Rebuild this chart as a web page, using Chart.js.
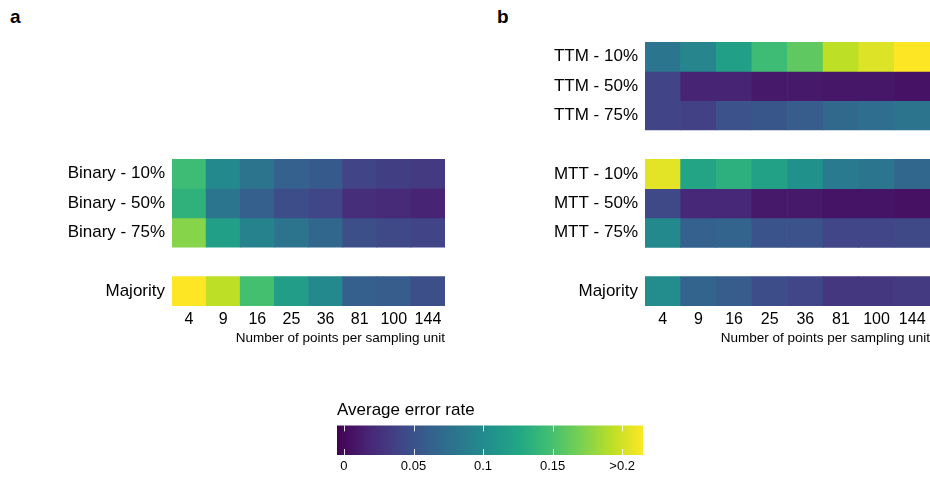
<!DOCTYPE html>
<html>
<head>
<meta charset="utf-8">
<script src="https://cdn.jsdelivr.net/npm/chart.js@4.4.1/dist/chart.umd.min.js"></script>
<style>
  body { margin: 0; background: #fff; width: 930px; height: 477px; position: relative; overflow: hidden; font-family: 'Liberation Sans', Arial, sans-serif; }
  canvas { position: absolute; }
  .tag { position: absolute; font-weight: bold; font-size: 19px; color: #000; }
</style>
</head>
<body>
<div class="tag" style="left:10px; top:6px;">a</div>
<div class="tag" style="left:497px; top:6px;">b</div>
<canvas id="panelA" width="460" height="360" style="left:0; top:0;"></canvas>
<canvas id="panelB" width="460" height="360" style="left:470px; top:0;"></canvas>
<canvas id="colorBar" width="326" height="79" style="left:327px; top:398px;"></canvas>
<script>
// points per sampling unit (columns)
var sizes = ['4', '9', '16', '25', '36', '81', '100', '144'];

// panel a rows (average error rate)
var binary10 = [0.145, 0.098, 0.079, 0.063, 0.057, 0.039, 0.035, 0.032];
var binary50 = [0.136, 0.081, 0.061, 0.046, 0.041, 0.024, 0.021, 0.017];
var binary75 = [0.175, 0.118, 0.092, 0.079, 0.068, 0.048, 0.043, 0.039];
var majorityA = [0.23, 0.193, 0.149, 0.116, 0.098, 0.061, 0.059, 0.048];

// panel b rows
var ttm10 = [0.081, 0.094, 0.118, 0.145, 0.160, 0.193, 0.204, 0.25];
var ttm50 = [0.039, 0.017, 0.017, 0.010, 0.010, 0.008, 0.008, 0.006];
var ttm75 = [0.039, 0.037, 0.050, 0.054, 0.059, 0.070, 0.074, 0.079];
var mtt10 = [0.206, 0.123, 0.134, 0.120, 0.105, 0.085, 0.081, 0.068];
var mtt50 = [0.043, 0.019, 0.019, 0.010, 0.010, 0.007, 0.007, 0.005];
var mtt75 = [0.098, 0.063, 0.065, 0.052, 0.050, 0.041, 0.041, 0.043];
var majorityB = [0.101, 0.065, 0.059, 0.046, 0.041, 0.030, 0.030, 0.032];

// colour scale limits and tick labels
var colorMin = -0.005;
var colorMax = 0.215;
var colorTicks = [0, 0.05, 0.1, 0.15, 0.2];
var colorTickLabels = ['0', '0.05', '0.1', '0.15', '>0.2'];

var viridis = ['#440154', '#482475', '#414487', '#355f8d', '#2a788e', '#21918c',
               '#22a884', '#44bf70', '#7ad151', '#bddf26', '#fde725'];

function hexToRgb(h) {
    return [parseInt(h.substr(1, 2), 16), parseInt(h.substr(3, 2), 16), parseInt(h.substr(5, 2), 16)];
}

function colorFor(v) {
    var t = (v - colorMin) / (colorMax - colorMin);
    t = Math.max(0, Math.min(1, t));
    var pos = t * (viridis.length - 1);
    var i = Math.min(Math.floor(pos), viridis.length - 2);
    var f = pos - i;
    var a = hexToRgb(viridis[i]), b = hexToRgb(viridis[i + 1]);
    var c = a.map(function (x, k) { return Math.round(x + (b[k] - x) * f); });
    return 'rgb(' + c.join(',') + ')';
}

Chart.defaults.font.family = "'Liberation Sans', Arial, sans-serif";
Chart.defaults.color = '#000';

function createHeatmap(canvasId, rowLabels, rowSlots, rowValues, nSlots, yWidth, pad) {
    var ctx = document.getElementById(canvasId).getContext('2d');

    var datasets = rowValues.map(function (vals, r) {
        return {
            label: rowLabels[r],
            data: vals.map(function () { return [rowSlots[r], rowSlots[r] + 1]; }),
            backgroundColor: vals.map(colorFor),
            borderWidth: 0,
            barPercentage: 1,
            categoryPercentage: 1,
            grouped: false
        };
    });

    return new Chart(ctx, {
        type: 'bar',
        data: { labels: sizes, datasets: datasets },
        options: {
            responsive: false,
            animation: false,
            layout: { padding: pad },
            plugins: { legend: { display: false }, tooltip: { enabled: false }, title: { display: false } },
            scales: {
                x: {
                    grid: { display: false, drawTicks: false },
                    border: { display: false },
                    ticks: { font: { size: 16 }, padding: 4, maxRotation: 0, autoSkip: false },
                    title: { display: true, text: 'Number of points per sampling unit', align: 'end',
                             font: { size: 13.5 }, padding: { top: 2, bottom: 0 } },
                    afterFit: function (s) { s.height = 40; }
                },
                y: {
                    min: 0, max: nSlots, reverse: true,
                    grid: { display: false, drawTicks: false },
                    border: { display: false },
                    afterBuildTicks: function (s) {
                        s.ticks = rowSlots.map(function (sl) { return { value: sl + 0.5 }; });
                    },
                    ticks: {
                        font: { size: 17 }, padding: 7, autoSkip: false,
                        callback: function (v, i) { return rowLabels[i]; }
                    },
                    afterFit: function (s) { s.width = yWidth; }
                }
            }
        }
    });
}

createHeatmap('panelA',
    ['Binary - 10%', 'Binary - 50%', 'Binary - 75%', 'Majority'],
    [0, 1, 2, 4],
    [binary10, binary50, binary75, majorityA],
    5, 172, { left: 0, right: 15, top: 159, bottom: 14 });

createHeatmap('panelB',
    ['TTM - 10%', 'TTM - 50%', 'TTM - 75%', 'MTT - 10%', 'MTT - 50%', 'MTT - 75%', 'Majority'],
    [0, 1, 2, 4, 5, 6, 8],
    [ttm10, ttm50, ttm75, mtt10, mtt50, mtt75, majorityB],
    9, 175, { left: 0, right: 0, top: 42, bottom: 14 });

// white tick marks inside the colour bar
var barTicks = {
    id: 'barTicks',
    afterDatasetsDraw: function (chart) {
        var xs = chart.scales.x, a = chart.chartArea, c = chart.ctx;
        c.save();
        c.strokeStyle = 'rgba(255,255,255,0.85)';
        c.lineWidth = 1;
        colorTicks.forEach(function (v) {
            var px = Math.round(xs.getPixelForValue(v)) + 0.5;
            c.beginPath();
            c.moveTo(px, a.top); c.lineTo(px, a.top + 6);
            c.moveTo(px, a.bottom); c.lineTo(px, a.bottom - 6);
            c.stroke();
        });
        c.restore();
    }
};

new Chart(document.getElementById('colorBar').getContext('2d'), {
    type: 'bar',
    data: {
        labels: ['error'],
        datasets: [{
            data: [[colorMin, colorMax]],
            backgroundColor: function (ctx) {
                var chart = ctx.chart;
                if (!chart.chartArea) return viridis[5];
                var xs = chart.scales.x;
                var g = chart.ctx.createLinearGradient(xs.getPixelForValue(colorMin), 0, xs.getPixelForValue(colorMax), 0);
                viridis.forEach(function (col, i) { g.addColorStop(i / (viridis.length - 1), col); });
                return g;
            },
            borderWidth: 0,
            barPercentage: 1,
            categoryPercentage: 1
        }]
    },
    plugins: [barTicks],
    options: {
        indexAxis: 'y',
        responsive: false,
        animation: false,
        layout: { padding: { left: 10, right: 10, top: 0, bottom: 0 } },
        plugins: {
            legend: { display: false }, tooltip: { enabled: false },
            title: { display: true, text: 'Average error rate', align: 'start',
                     font: { size: 17, weight: 'normal' }, padding: { top: 2, bottom: 5 } }
        },
        scales: {
            x: {
                min: colorMin, max: colorMax,
                grid: { display: false, drawTicks: false },
                border: { display: false },
                afterBuildTicks: function (s) {
                    s.ticks = colorTicks.map(function (v) { return { value: v }; });
                },
                ticks: {
                    font: { size: 13 }, padding: 4, maxRotation: 0, autoSkip: false,
                    callback: function (v, i) { return colorTickLabels[i]; }
                },
                afterFit: function (s) { s.height = 22; }
            },
            y: { display: false }
        }
    }
});
</script>
</body>
</html>
